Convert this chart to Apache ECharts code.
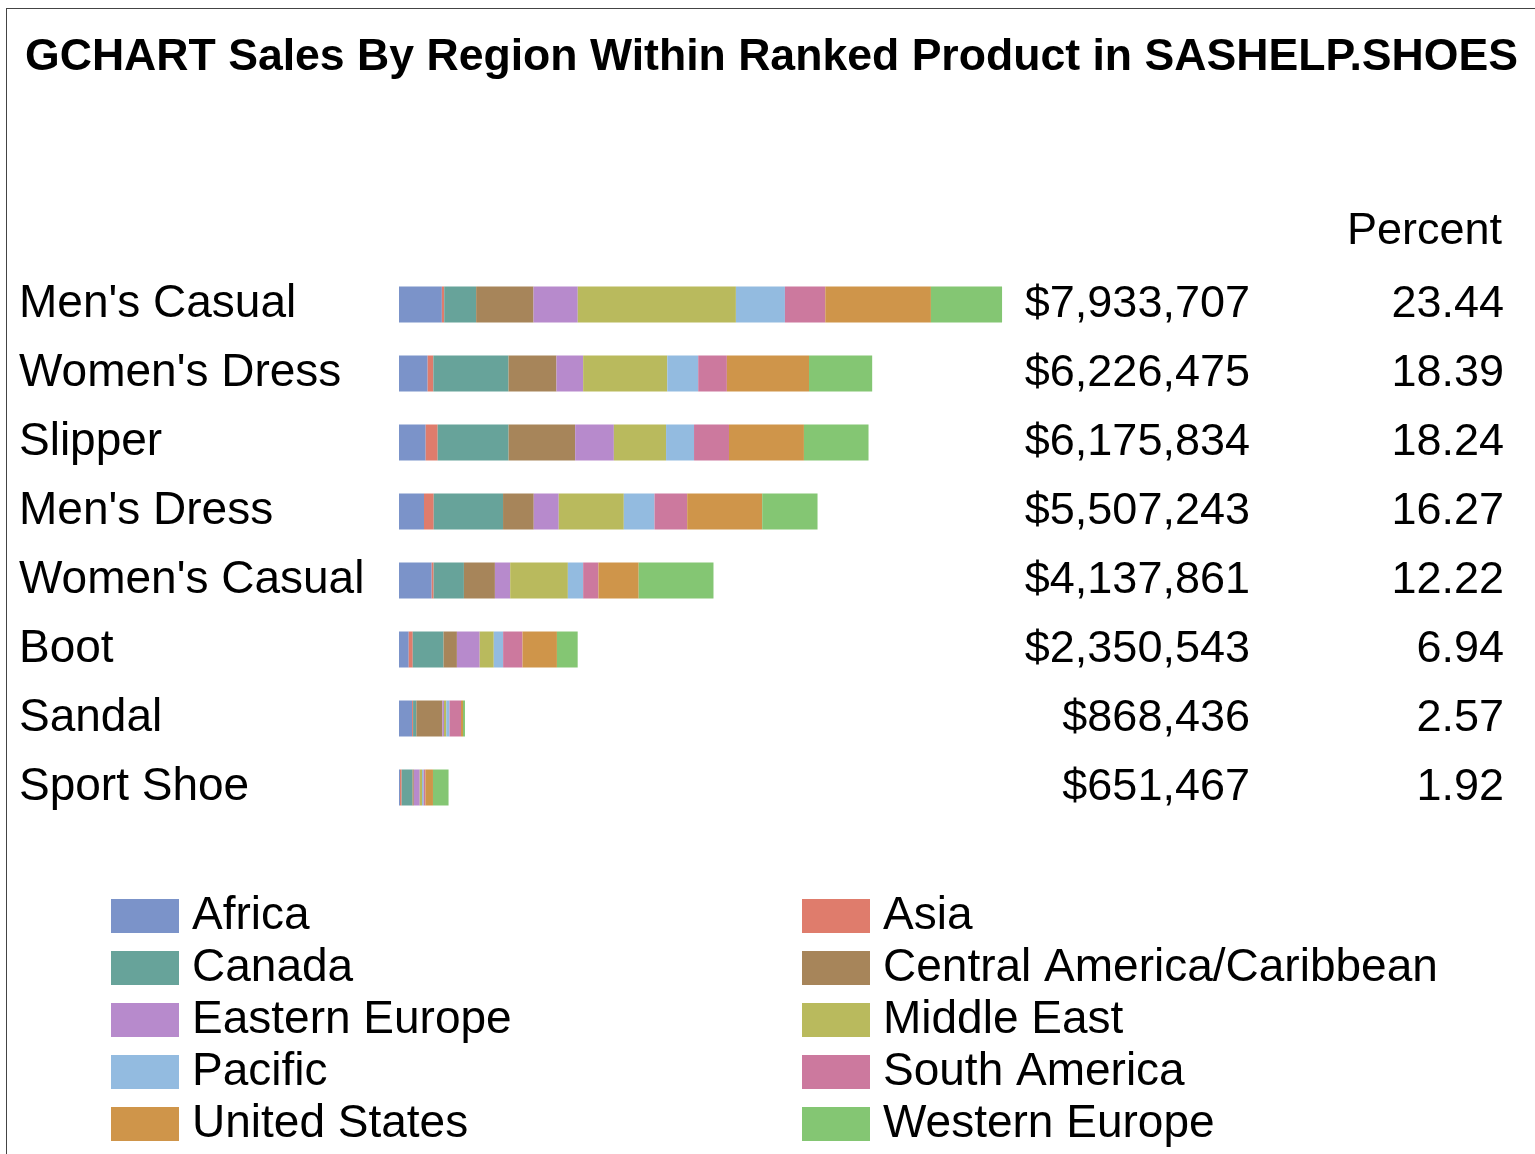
<!DOCTYPE html>
<html>
<head>
<meta charset="utf-8">
<script src="https://cdn.jsdelivr.net/npm/echarts@6/dist/echarts.min.js"></script>
<style>
  body { margin: 0; background: #fff; }
  #chart { width: 1535px; height: 1154px; }
  #frame { position: absolute; left: 6px; top: 8px; width: 1540px; height: 1160px;
           border: 1px solid #444; pointer-events: none; }
</style>
</head>
<body>
<div id="chart"></div>
<div id="frame"></div>
<script>
"use strict";
/*global echarts*/

// products, ranked by total sales
var products = ["Men's Casual", "Women's Dress", "Slipper", "Men's Dress",
  "Women's Casual", "Boot", "Sandal", "Sport Shoe"];
var totals = ["$7,933,707", "$6,226,475", "$6,175,834", "$5,507,243",
  "$4,137,861", "$2,350,543", "$868,436", "$651,467"];
var percents = ["23.44", "18.39", "18.24", "16.27", "12.22", "6.94", "2.57", "1.92"];

var regions = ["Africa", "Asia", "Canada", "Central America/Caribbean", "Eastern Europe",
  "Middle East", "Pacific", "South America", "United States", "Western Europe"];
var regionColors = ["#7b93c9", "#df7c6c", "#67a39a", "#a7855a", "#b78acc",
  "#b9ba5d", "#93bbe0", "#cc799e", "#cf954a", "#84c673"];

// sales in $ thousands, one array per region (same order as products)
var africa   = [564, 377, 351, 329, 430, 128, 172, 13];
var asia     = [31, 75, 158, 128, 26, 53, 13, 22];
var canada   = [420, 989, 933, 912, 398, 405, 43, 143];
var central  = [755, 631, 876, 404, 408, 176, 342, 17];
var eastEur  = [582, 351, 509, 329, 201, 300, 22, 78];
var midEast  = [2081, 1107, 687, 856, 759, 185, 30, 30];
var pacific  = [645, 407, 368, 404, 201, 123, 43, 22];
var southAm  = [531, 377, 460, 430, 201, 255, 151, 22];
var usa      = [1390, 1081, 986, 987, 530, 453, 26, 100];
var westEur  = [936, 831, 850, 728, 984, 273, 26, 205];
var regionSales = [africa, asia, canada, central, eastEur, midEast, pacific, southAm, usa, westEur];

var FONT = "'Liberation Sans', Arial, sans-serif";

function initChart() {
  var myChart = echarts.init(document.getElementById("chart"));

  var series = regions.map(function (r, i) {
    return {
      name: r,
      type: "bar",
      stack: "sales",
      barWidth: 36,
      itemStyle: { color: regionColors[i] },
      data: regionSales[i],
    };
  });

  var catAxis = function (data, margin, align, size) {
    return {
      type: "category",
      inverse: true,
      data: data,
      axisLine: { show: false },
      axisTick: { show: false },
      splitLine: { show: false },
      axisLabel: {
        interval: 0,
        margin: margin,
        align: align,
        color: "#000",
        fontFamily: FONT,
        fontSize: size,
      },
    };
  };

  var left = regions.filter(function (r, i) { return i % 2 === 0; });
  var right = regions.filter(function (r, i) { return i % 2 === 1; });
  var legendBase = {
    orient: "vertical",
    icon: "rect",
    itemWidth: 68,
    itemHeight: 34,
    itemGap: 6,
    selectedMode: false,
    textStyle: { color: "#000", fontFamily: FONT, fontSize: 46, lineHeight: 46, padding: [0, 0, 0, 8] },
    top: 888,
  };

  var option = {
    animation: false,
    backgroundColor: "#fff",
    textStyle: { fontFamily: FONT },
    title: [
      {
        text: "GCHART Sales By Region Within Ranked Product in SASHELP.SHOES",
        left: 20,
        top: 30,
        textStyle: { color: "#000", fontFamily: FONT, fontSize: 44.6, fontWeight: "bold" },
      },
      {
        text: "Percent",
        right: 28,
        top: 204,
        textStyle: { color: "#000", fontFamily: FONT, fontSize: 45, fontWeight: "normal" },
      },
    ],
    legend: [
      Object.assign({ left: 106, data: left }, legendBase),
      Object.assign({ left: 797, data: right }, legendBase),
    ],
    grid: { left: 399, top: 270, width: 608, height: 552, outerBoundsMode: "none" },
    xAxis: { type: "value", min: 0, max: 8000, show: false },
    yAxis: [
      Object.assign(catAxis(products, 380, "left", 46), { position: "left" }),
      Object.assign(catAxis(totals, 243, "right", 45), { position: "right" }),
      Object.assign(catAxis(percents, 497, "right", 45), { position: "right" }),
    ],
    series: series,
  };
  myChart.setOption(option);
  return myChart;
}

initChart();
</script>
</body>
</html>
